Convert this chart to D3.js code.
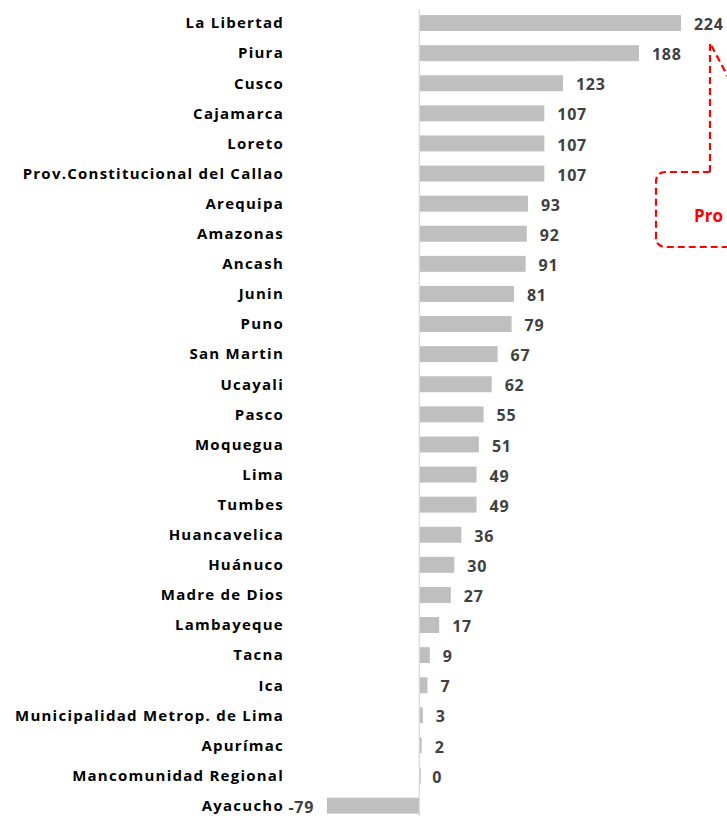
<!DOCTYPE html>
<html>
<head>
<meta charset="utf-8">
<script src="https://cdn.jsdelivr.net/npm/d3@7"></script>
<style>
  body { margin: 0; background: #fff; overflow: hidden; }
  svg { display: block; }
</style>
</head>
<body>
<div id="chart"></div>
<script>
// regions, ordered as in the chart
const regions = [
  "La Libertad", "Piura", "Cusco", "Cajamarca", "Loreto",
  "Prov.Constitucional del Callao", "Arequipa", "Amazonas", "Ancash", "Junin",
  "Puno", "San Martin", "Ucayali", "Pasco", "Moquegua", "Lima", "Tumbes",
  "Huancavelica", "Huánuco", "Madre de Dios", "Lambayeque", "Tacna", "Ica",
  "Municipalidad Metrop. de Lima", "Apurímac", "Mancomunidad Regional", "Ayacucho"
];
const values = [224, 188, 123, 107, 107, 107, 93, 92, 91, 81, 79, 67, 62, 55, 51, 49, 49, 36, 30, 27, 17, 9, 7, 3, 2, 0, -79];
const calloutText = "Pro";

const width = 727, height = 816;
const margin = { top: 8, right: 46, bottom: 0, left: 0 };

const svg = d3.select("#chart").append("svg")
  .attr("width", width)
  .attr("height", height);

const x = d3.scaleLinear()
  .domain([-79, 224])
  .range([327, 681]);

const y = d3.scaleBand()
  .domain(regions)
  .range([margin.top, margin.top + 30.1 * regions.length])
  .paddingInner(0.47)
  .paddingOuter(0.235);

const font = "'Open Sans', sans-serif";

// bars
svg.selectAll(".bar")
  .data(regions)
  .enter().append("rect")
  .attr("class", "bar")
  .attr("x", (d, i) => Math.min(x(0), x(values[i])))
  .attr("y", d => y(d))
  .attr("width", (d, i) => Math.max(Math.abs(x(values[i]) - x(0)), values[i] === 0 ? 1.5 : 0))
  .attr("height", y.bandwidth())
  .attr("fill", "#bfbfbf");

// zero axis line
svg.append("line")
  .attr("x1", x(0)).attr("x2", x(0))
  .attr("y1", 9).attr("y2", height)
  .attr("stroke", "#d9d9d9")
  .attr("stroke-width", 1.2);

// category labels
svg.selectAll(".cat")
  .data(regions)
  .enter().append("text")
  .attr("class", "cat")
  .attr("x", 284)
  .attr("y", d => y(d) + y.bandwidth() / 2)
  .attr("dy", "0.35em")
  .attr("text-anchor", "end")
  .attr("font-family", font)
  .attr("font-weight", "bold")
  .attr("font-size", 15)
  .attr("letter-spacing", 1.25)
  .attr("fill", "#000")
  .text(d => d);

// value labels
svg.selectAll(".val")
  .data(regions)
  .enter().append("text")
  .attr("class", "val")
  .attr("x", (d, i) => values[i] < 0 ? x(values[i]) - 13 : x(values[i]) + 13)
  .attr("y", d => y(d) + y.bandwidth() / 2 + 1.5)
  .attr("dy", "0.35em")
  .attr("text-anchor", (d, i) => values[i] < 0 ? "end" : "start")
  .attr("font-family", font)
  .attr("font-weight", "bold")
  .attr("font-size", 16)
  .attr("letter-spacing", 0.7)
  .attr("fill", "#404040")
  .text((d, i) => values[i]);

// callout box pointing at La Libertad
const px = 710, py = 43;
const bx = 656, by = 172, bh = 75, r = 10;
const callout = d3.path();
callout.moveTo(px, by);
callout.lineTo(bx + r, by);
callout.quadraticCurveTo(bx, by, bx, by + r);
callout.lineTo(bx, by + bh - r);
callout.quadraticCurveTo(bx, by + bh, bx + r, by + bh);
callout.lineTo(width + 40, by + bh);
callout.moveTo(px, by);
callout.lineTo(px, py);
callout.lineTo(px + 34, py + 64);

svg.append("path")
  .attr("d", callout.toString())
  .attr("fill", "none")
  .attr("stroke", "#ff0000")
  .attr("stroke-width", 2.2)
  .attr("stroke-dasharray", "7,4");

svg.append("text")
  .attr("x", 694)
  .attr("y", 222)
  .attr("font-family", font)
  .attr("font-weight", "bold")
  .attr("font-size", 17)
  .attr("fill", "#ff0000")
  .text(calloutText);
</script>
</body>
</html>
